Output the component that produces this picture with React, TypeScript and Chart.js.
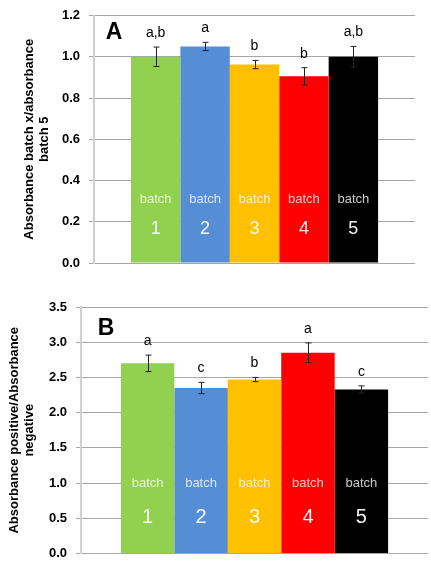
import React, { useEffect, useRef } from 'react';
import { Chart, registerables } from 'chart.js';
Chart.register(...registerables);

const batchNames = ['1', '2', '3', '4', '5'];
const batchColors = ['#92d050', '#558ed5', '#ffc000', '#ff0000', '#000000'];

const valuesA = [1.0, 1.05, 0.962, 0.905, 1.0];
const errorsA = [0.047, 0.02, 0.02, 0.042, 0.05];
const lettersA = ['a,b', 'a', 'b', 'b', 'a,b'];
const titleA = ['Absorbance batch x/absorbance', 'batch 5'];

const valuesB = [2.7, 2.35, 2.47, 2.85, 2.33];
const errorsB = [0.117, 0.08, 0.03, 0.14, 0.05];
const lettersB = ['a', 'c', 'b', 'a', 'c'];
const titleB = ['Absorbance positive/Absorbance', 'negative'];

const FONT = '"Liberation Sans", Arial, sans-serif';

type PanelProps = {
  top: number;
  height: number;
  values: number[];
  errors: number[];
  letters: string[];
  title: string[];
  panelLabel: string;
  yMax: number;
  yStep: number;
  padding: { left: number; right: number; top: number; bottom: number };
  axisWidth: number;
  titlePad: number;
  labelPos: { dx: number; dy: number };
  batchOffset: number;
  numberOffset: number;
  numberSize: number;
  letterGap: number;
};

function Panel(p: PanelProps) {
  const ref = useRef<HTMLCanvasElement | null>(null);
  useEffect(() => {
    if (!ref.current) return;
    const annot = {
      id: 'annot' + p.panelLabel,
      afterDatasetsDraw(chart: any) {
        const ctx = chart.ctx;
        const y = chart.scales.y;
        const area = chart.chartArea;
        ctx.save();
        chart.data.datasets.forEach((ds: any, i: number) => {
          const bar = chart.getDatasetMeta(i).data[0];
          const v = p.values[i];
          const e = p.errors[i];
          const x = Math.round(bar.x) + 0.5;
          const yt = y.getPixelForValue(v + e);
          const yb = y.getPixelForValue(v - e);
          ctx.strokeStyle = '#222';
          ctx.lineWidth = 1;
          ctx.beginPath();
          ctx.moveTo(x, yt);
          ctx.lineTo(x, yb);
          ctx.moveTo(x - 3, yt);
          ctx.lineTo(x + 3, yt);
          ctx.moveTo(x - 3, yb);
          ctx.lineTo(x + 3, yb);
          ctx.stroke();
          ctx.fillStyle = '#000';
          ctx.font = '14px ' + FONT;
          ctx.textAlign = 'center';
          ctx.textBaseline = 'alphabetic';
          ctx.fillText(p.letters[i], bar.x, yt - p.letterGap);
          ctx.fillStyle = 'rgba(255,255,255,0.78)';
          ctx.font = '13px ' + FONT;
          ctx.textBaseline = 'middle';
          ctx.fillText('batch', bar.x, area.bottom - p.batchOffset);
          ctx.fillStyle = 'rgba(255,255,255,0.95)';
          ctx.font = p.numberSize + 'px ' + FONT;
          ctx.fillText(batchNames[i], bar.x, area.bottom - p.numberOffset);
        });
        ctx.fillStyle = '#000';
        ctx.font = 'bold 23px ' + FONT;
        ctx.textAlign = 'center';
        ctx.textBaseline = 'middle';
        ctx.fillText(p.panelLabel, area.left + p.labelPos.dx, area.top + p.labelPos.dy);
        ctx.restore();
      },
    };
    const chart = new Chart(ref.current, {
      type: 'bar',
      data: {
        labels: [''],
        datasets: batchNames.map((b, i) => ({
          label: 'batch ' + b,
          data: [p.values[i]],
          backgroundColor: batchColors[i],
          borderWidth: 0,
          categoryPercentage: 0.77,
          barPercentage: 1,
        })),
      },
      options: {
        responsive: false,
        animation: false,
        layout: { padding: p.padding },
        plugins: { legend: { display: false }, tooltip: { enabled: false } },
        scales: {
          x: { display: false },
          y: {
            min: 0,
            max: p.yMax,
            ticks: {
              stepSize: p.yStep,
              color: '#000',
              padding: 9,
              font: { family: FONT, size: 13, weight: 'bold', lineHeight: 1 },
              callback: (v: any) => Number(v).toFixed(1),
            },
            grid: { color: '#a6a6a6', lineWidth: 1, tickLength: 5, drawTicks: true },
            border: { color: '#d0d0d0', width: 2 },
            title: {
              display: true,
              text: p.title,
              color: '#000',
              font: { family: FONT, size: 13, weight: 'bold', lineHeight: 1.15 },
              padding: { top: p.titlePad, bottom: 0 },
            },
            afterFit: (scale: any) => {
              scale.width = p.axisWidth;
            },
          },
        },
      },
      plugins: [annot],
    } as any);
    return () => chart.destroy();
  }, []);
  return (
    <canvas
      ref={ref}
      width={431}
      height={p.height}
      style={{ position: 'absolute', left: 0, top: p.top, width: 431, height: p.height }}
    />
  );
}

export default function App() {
  return (
    <div style={{ position: 'absolute', left: 0, top: 0, width: 431, height: 569, background: '#fff' }}>
      <Panel
        top={0}
        height={280}
        values={valuesA}
        errors={errorsA}
        letters={lettersA}
        title={titleA}
        panelLabel="A"
        yMax={1.2}
        yStep={0.2}
        padding={{ left: 0, right: 16, top: 7, bottom: 17 }}
        axisWidth={94}
        titlePad={21.5}
        labelPos={{ dx: 20, dy: 17 }}
        batchOffset={64}
        numberOffset={34}
        numberSize={18}
        letterGap={10}
      />
      <Panel
        top={280}
        height={289}
        values={valuesB}
        errors={errorsB}
        letters={lettersB}
        title={titleB}
        panelLabel="B"
        yMax={3.5}
        yStep={0.5}
        padding={{ left: 0, right: 3, top: 27, bottom: 7 }}
        axisWidth={81}
        titlePad={6.5}
        labelPos={{ dx: 25, dy: 22 }}
        batchOffset={70}
        numberOffset={36}
        numberSize={20}
        letterGap={10}
      />
    </div>
  );
}
